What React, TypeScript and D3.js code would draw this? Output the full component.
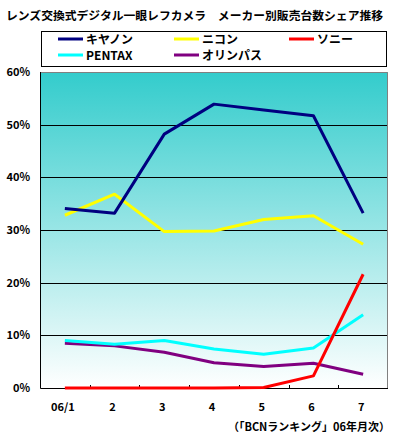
import * as d3 from "d3";
import { useEffect, useRef } from "react";

const months = ["06/1", "2", "3", "4", "5", "6", "7"];
const canon = [34.1, 33.2, 48.2, 53.9, 52.8, 51.7, 33.2];
const nikon = [32.8, 36.8, 29.7, 29.8, 32.0, 32.7, 27.3];
const sony = [0, 0, 0, 0, 0.1, 2.3, 21.6];
const pentax = [9.0, 8.3, 9.0, 7.4, 6.4, 7.6, 13.9];
const olympus = [8.5, 8.0, 6.8, 4.8, 4.1, 4.7, 2.6];
const yTicks = [0, 10, 20, 30, 40, 50, 60];

const seriesNames = ["キヤノン", "ニコン", "ソニー", "PENTAX", "オリンパス"];
const seriesColors = ["#000080", "#FFFF00", "#FF0000", "#00FFFF", "#800080"];

const App = () => {
  const ref = useRef<SVGSVGElement>(null);

  useEffect(() => {
    const W = 399, H = 434;
    const margin = { top: 72, right: 11, bottom: 46, left: 40 };
    const font = "'Noto Sans CJK JP', sans-serif";

    const svg = d3.select(ref.current);
    svg.selectAll("*").remove();

    const x = d3.scaleBand().domain(months).range([margin.left, W - margin.right]);
    const y = d3.scaleLinear().domain([0, 60]).range([H - margin.bottom, margin.top]);

    const defs = svg.append("defs");
    const grad = defs.append("linearGradient")
      .attr("id", "bg").attr("x1", 0).attr("y1", 0).attr("x2", 0).attr("y2", 1);
    grad.append("stop").attr("offset", "0%").attr("stop-color", "#33CCCC");
    grad.append("stop").attr("offset", "100%").attr("stop-color", "#FFFFFF");

    // title
    svg.append("text")
      .attr("x", 6).attr("y", 20)
      .attr("font-family", font).attr("font-weight", "bold").attr("font-size", 11.8)
      .text("レンズ交換式デジタル一眼レフカメラ　メーカー別販売台数シェア推移");

    // legend
    svg.append("rect")
      .attr("x", 41.5).attr("y", 31.5).attr("width", 345).attr("height", 35)
      .attr("fill", "white").attr("stroke", "black");
    const legendPos = [[58, 39], [174, 39], [289, 39], [58, 55], [174, 55]];
    seriesNames.forEach((name, i) => {
      const [lx, ly] = legendPos[i];
      svg.append("line")
        .attr("x1", lx).attr("x2", lx + 25).attr("y1", ly).attr("y2", ly)
        .attr("stroke", seriesColors[i]).attr("stroke-width", 3);
      svg.append("text")
        .attr("x", lx + 28).attr("y", ly + 4.5)
        .attr("font-family", font).attr("font-weight", "bold").attr("font-size", 12)
        .text(name);
    });

    // plot background
    svg.append("rect")
      .attr("x", margin.left).attr("y", margin.top)
      .attr("width", W - margin.left - margin.right)
      .attr("height", H - margin.top - margin.bottom)
      .attr("fill", "url(#bg)");

    // grid lines
    svg.append("g")
      .selectAll("line")
      .data(yTicks.filter(d => d > 0 && d < 60))
      .enter().append("line")
      .attr("x1", margin.left).attr("x2", W - margin.right)
      .attr("y1", d => Math.round(y(d)) + 0.5).attr("y2", d => Math.round(y(d)) + 0.5)
      .attr("stroke", "black");

    // top and right border (gray)
    svg.append("path")
      .attr("d", `M${margin.left},${margin.top + 0.5}H${W - margin.right - 0.5}V${H - margin.bottom}`)
      .attr("fill", "none").attr("stroke", "#808080");

    // axes
    svg.append("path")
      .attr("d", `M${margin.left + 0.5},${margin.top}V${H - margin.bottom + 0.5}H${W - margin.right}`)
      .attr("fill", "none").attr("stroke", "black");

    // x ticks between categories
    svg.append("g")
      .selectAll("line")
      .data(months.slice(1))
      .enter().append("line")
      .attr("x1", d => Math.round(x(d)!) + 0.5).attr("x2", d => Math.round(x(d)!) + 0.5)
      .attr("y1", H - margin.bottom).attr("y2", H - margin.bottom - 3)
      .attr("stroke", "black");

    // y labels
    svg.append("g")
      .attr("font-family", font).attr("font-weight", "bold").attr("font-size", 11)
      .attr("text-anchor", "end")
      .selectAll("text")
      .data(yTicks)
      .enter().append("text")
      .attr("x", 30).attr("y", d => y(d) + 4)
      .text(d => d + "%");

    // x labels
    svg.append("g")
      .attr("font-family", font).attr("font-weight", "bold").attr("font-size", 11)
      .attr("text-anchor", "middle")
      .selectAll("text")
      .data(months)
      .enter().append("text")
      .attr("x", d => x(d)! + x.bandwidth() / 2 - 2).attr("y", 411)
      .text(d => d);

    // source
    svg.append("text")
      .attr("x", 390).attr("y", 431)
      .attr("text-anchor", "end")
      .attr("font-family", font).attr("font-weight", "bold").attr("font-size", 11)
      .text("（「BCNランキング」06年月次）");

    // series lines
    const allSeries = [canon, nikon, sony, pentax, olympus];
    const line = d3.line<number>()
      .x((_, i) => x(months[i])! + x.bandwidth() / 2)
      .y(d => y(d));
    const drawOrder = [4, 3, 2, 1, 0];
    drawOrder.forEach(i => {
      svg.append("path")
        .attr("d", line(allSeries[i]))
        .attr("fill", "none")
        .attr("stroke", seriesColors[i])
        .attr("stroke-width", 3)
        .attr("stroke-linejoin", "round");
    });
  }, []);

  return <svg ref={ref} width={399} height={434} style={{ position: "absolute", left: 0, top: 0 }}></svg>;
};

export default App;
